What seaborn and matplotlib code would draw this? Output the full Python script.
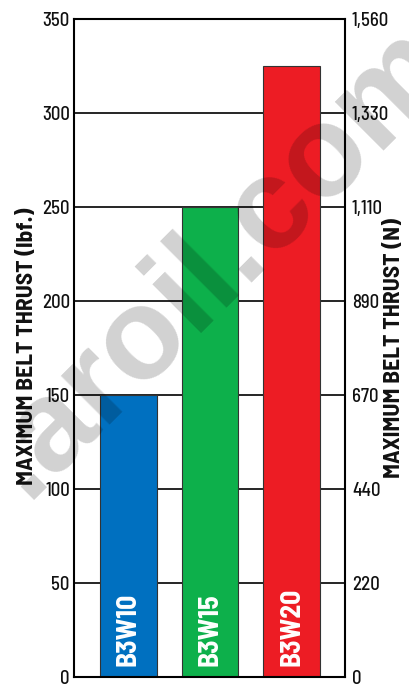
import matplotlib
matplotlib.use("Agg")
import matplotlib.pyplot as plt
import seaborn as sns
import pandas as pd

# Belt thrust per model
models = ["B3W10", "B3W15", "B3W20"]
thrust_lbf = [150, 250, 325]
bar_colors = ["#0070c0", "#0db04b", "#ed1c24"]

# Paired scales: lbf on the left, newtons on the right
lbf_ticks = [0, 50, 100, 150, 200, 250, 300, 350]
newton_labels = ["0", "220", "440", "670", "890", "1,110", "1,330", "1,560"]

sns.set_theme(style="white")
narrow = ["Barlow Semi Condensed", "Archivo Narrow", "DejaVu Sans"]
plt.rcParams["font.family"] = narrow

df = pd.DataFrame({"model": models, "thrust": thrust_lbf})

fig = plt.figure(figsize=(4.09, 6.85), dpi=100)
ax = fig.add_axes([0.1809, 0.0117, 0.6626, 0.9606])

sns.barplot(data=df, x="model", y="thrust", hue="model",
            palette=dict(zip(models, bar_colors)), dodge=False,
            width=0.694, legend=False, ax=ax,
            edgecolor="#333333", linewidth=0.8, saturation=1)

ax.set_xlim(-0.665, 2.652)
ax.set_ylim(0, 350)
ax.set_yticks(lbf_ticks)
ax.set_yticklabels([str(v) for v in lbf_ticks])
ax.set_xticks([])
ax.set_xlabel("")
ax.set_ylabel("MAXIMUM BELT THRUST (lbf.)", fontsize=17, fontweight="bold",
              color="#111111")
ax.yaxis.set_label_coords(-0.136, 0.503)
ax.set_axisbelow(True)
ax.yaxis.grid(True, color="black", linewidth=1.2)
ax.tick_params(axis="y", length=0, pad=3, labelsize=13.5, labelcolor="#111111")
for s in ax.spines.values():
    s.set_color("black")
    s.set_linewidth(1.5)

# Model names written up the inside of each bar
for i, (name, val) in enumerate(zip(models, thrust_lbf)):
    ax.text(i, 6, name, rotation=90, ha="center", va="bottom",
            color="white", fontsize=20, fontweight="bold")

ax2 = ax.twinx()
ax2.set_ylim(ax.get_ylim())
ax2.set_yticks(lbf_ticks)
ax2.set_yticklabels(newton_labels)
ax2.tick_params(axis="y", length=0, pad=5, labelsize=13.5, labelcolor="#111111")
ax2.set_ylabel("MAXIMUM BELT THRUST (N)", fontsize=17, fontweight="bold",
               color="#111111", rotation=90)
ax2.yaxis.set_label_coords(1.143, 0.5)
for s in ax2.spines.values():
    s.set_visible(False)
for lab in ax.get_yticklabels() + ax2.get_yticklabels():
    lab.set_fontweight("medium")

# Faint site watermark across the plot
fig.text(26 / 409, 1 - 500 / 685, ".aroil.com", rotation=45,
         rotation_mode="anchor", ha="left", va="baseline",
         fontsize=93, fontweight="bold",
         family=["Liberation Sans", "DejaVu Sans"],
         color="black", alpha=0.18, zorder=20)

fig.savefig("out.png", dpi=100)
